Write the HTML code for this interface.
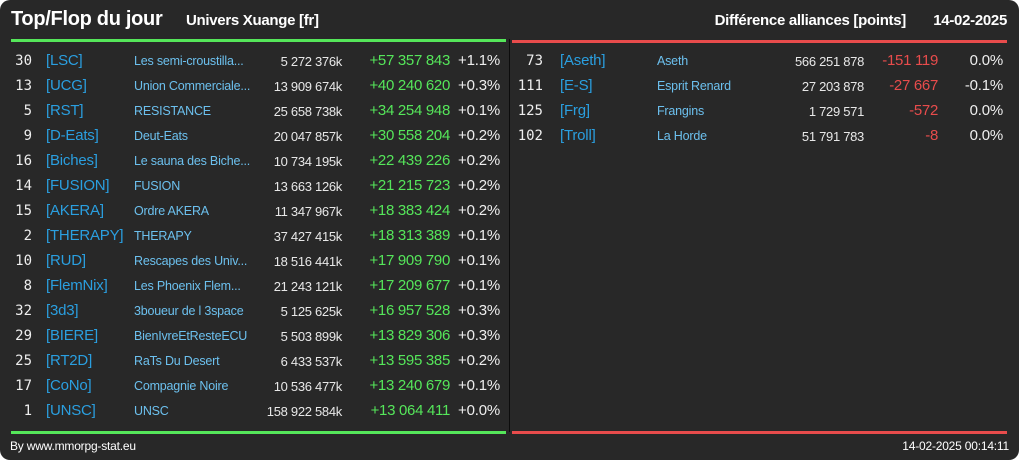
<!DOCTYPE html>
<html><head><meta charset="utf-8"><style>
html,body{margin:0;padding:0;background:#fff;}
#card{position:relative;width:1019px;height:460px;background:#282828;border-radius:10px;overflow:hidden;font-family:"Liberation Sans",sans-serif;color:#eee;}
.t{position:absolute;white-space:nowrap;line-height:1;}
.r{text-align:right;}
.rank{font-family:"DejaVu Sans Mono","Liberation Mono",monospace;font-size:14px;color:#eee;}
.tag{font-size:15px;color:#2a9fe0;letter-spacing:-0.2px;}
.nm{font-size:12.5px;color:#6cc0ee;letter-spacing:-0.2px;}
.pts{font-size:13px;color:#e8e8e8;letter-spacing:-0.3px;}
.dif{font-size:15px;letter-spacing:-0.3px;}
.pct{font-size:15px;color:#eee;letter-spacing:-0.2px;}
.hd{font-weight:bold;color:#fff;letter-spacing:-0.3px;}
</style></head><body>
<div id="card">
<div class="t hd" style="left:11px;top:9px;font-size:20px;">Top/Flop du jour</div>
<div class="t hd" style="left:186px;top:13px;font-size:15px;">Univers Xuange [fr]</div>
<div class="t hd" style="right:113px;top:13px;font-size:15px;">Différence alliances [points]</div>
<div class="t hd" style="right:12px;top:13px;font-size:15px;">14-02-2025</div>
<div style="position:absolute;left:11px;top:39px;width:495px;height:3px;background:#55e65a;"></div>
<div style="position:absolute;left:512px;top:40px;width:495px;height:3px;background:#e84c4c;"></div>
<div style="position:absolute;left:509px;top:39px;width:1px;height:393px;background:#0c0c0c;"></div>
<div style="position:absolute;left:11px;top:431px;width:495px;height:3px;background:#55e65a;"></div>
<div style="position:absolute;left:512px;top:431px;width:495px;height:3px;background:#e84c4c;"></div>
<div class="t" style="left:10px;top:440px;font-size:12px;color:#fff;letter-spacing:-0.2px;">By www.mmorpg-stat.eu</div>
<div class="t" style="right:10px;top:440px;font-size:12px;color:#fff;letter-spacing:-0.2px;">14-02-2025 00:14:11</div>
</div>
<script>
const topRanks=[30,13,5,9,16,14,15,2,10,8,32,29,25,17,1];
const topTags=["[LSC]","[UCG]","[RST]","[D-Eats]","[Biches]","[FUSION]","[AKERA]","[THERAPY]","[RUD]","[FlemNix]","[3d3]","[BIERE]","[RT2D]","[CoNo]","[UNSC]"];
const topNames=["Les semi-croustilla...","Union Commerciale...","RESISTANCE","Deut-Eats","Le sauna des Biche...","FUSION","Ordre AKERA","THERAPY","Rescapes des Univ...","Les Phoenix Flem...","3boueur de l 3space","BienIvreEtResteECU","RaTs Du Desert","Compagnie Noire","UNSC"];
const topPoints=["5 272 376k","13 909 674k","25 658 738k","20 047 857k","10 734 195k","13 663 126k","11 347 967k","37 427 415k","18 516 441k","21 243 121k","5 125 625k","5 503 899k","6 433 537k","10 536 477k","158 922 584k"];
const topDiffs=["+57 357 843","+40 240 620","+34 254 948","+30 558 204","+22 439 226","+21 215 723","+18 383 424","+18 313 389","+17 909 790","+17 209 677","+16 957 528","+13 829 306","+13 595 385","+13 240 679","+13 064 411"];
const topPcts=["+1.1%","+0.3%","+0.1%","+0.2%","+0.2%","+0.2%","+0.2%","+0.1%","+0.1%","+0.1%","+0.3%","+0.3%","+0.2%","+0.1%","+0.0%"];
const flopRanks=[73,111,125,102];
const flopTags=["[Aseth]","[E-S]","[Frg]","[Troll]"];
const flopNames=["Aseth","Esprit Renard","Frangins","La Horde"];
const flopPoints=["566 251 878","27 203 878","1 729 571","51 791 783"];
const flopDiffs=["-151 119","-27 667","-572","-8"];
const flopPcts=["0.0%","-0.1%","0.0%","0.0%"];

const card=document.getElementById('card');
function cell(cls,txt,x,y,right,color){
  const d=document.createElement('div');
  d.className='t '+cls+(right?' r':'');
  d.textContent=txt;
  if(right){d.style.right=(1019-x)+'px';}else{d.style.left=x+'px';}
  d.style.top=y+'px';
  if(color)d.style.color=color;
  card.appendChild(d);
  return d;
}
const rowY=i=>53+i*25;
topRanks.forEach((r,i)=>{
  const y=rowY(i);
  let e;
  e=cell('rank',String(r),32,y+1,true);
  
  
  e=cell('tag',topTags[i],46,y,false);
  
  
  e=cell('nm',topNames[i],134,y+2,false);
  
  
  e=cell('pts',topPoints[i],342,y+2,true);
  
  
  e=cell('dif',topDiffs[i],450,y,true,'#55e65a');
  
  
  e=cell('pct',topPcts[i],500,y,true);
  
  
});
flopRanks.forEach((r,i)=>{
  const y=rowY(i);
  let e;
  e=cell('rank',String(r),543,y+1,true);
  
  
  e=cell('tag',flopTags[i],560,y,false);
  
  
  e=cell('nm',flopNames[i],657,y+2,false);
  
  
  e=cell('pts',flopPoints[i],864,y+2,true);
  
  
  e=cell('dif',flopDiffs[i],938,y,true,'#e84c4c');
  
  
  e=cell('pct',flopPcts[i],1003,y,true);
  
  
});
</script>
</body></html>
